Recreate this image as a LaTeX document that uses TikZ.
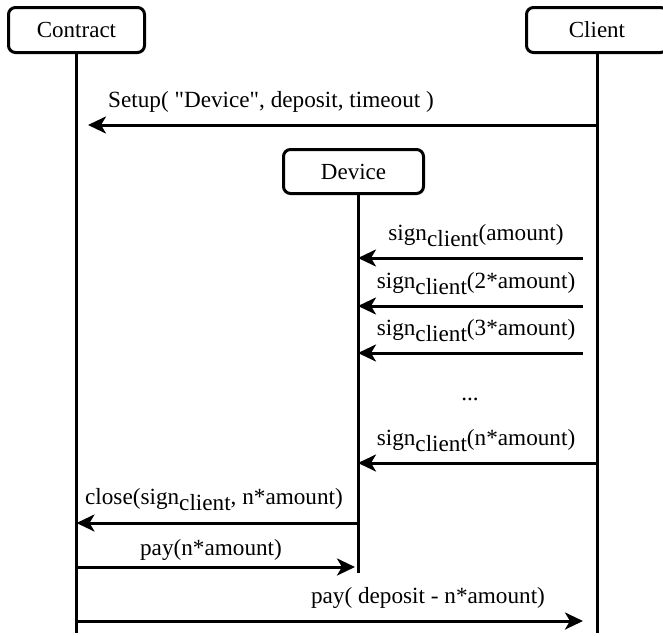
\documentclass[tikz,border=0pt]{standalone}
\usepackage{fontspec}
\setmainfont{Liberation Serif}
\newfontfamily\diagfont{Liberation Serif}
\usetikzlibrary{arrows.meta}
\newcommand\clsub{\raisebox{-0.3em}{client}}
\begin{document}
\begin{tikzpicture}[x=1pt,y=-1pt,
  actor/.style={draw,line width=3pt,rounded corners=7pt,inner sep=0pt,
    font=\diagfont\fontsize{23}{27}\selectfont},
  life/.style={line width=3pt},
  msg/.style={line width=3pt,-{Stealth[length=18pt,width=17pt,inset=5pt]}},
  lbl/.style={font=\diagfont\fontsize{23.2}{27}\selectfont,inner sep=0pt,anchor=base}
]
\useasboundingbox (0,0) rectangle (663,635);
% actors
\node[actor,minimum width=136pt,minimum height=45pt] (contract) at (76.5,30) {Contract};
\node[actor,minimum width=140pt,minimum height=44pt] (device) at (353.5,171.5) {Device};
\node[actor,minimum width=141pt,minimum height=45pt] (client) at (597,30) {Client};
% lifelines
\coordinate (cbot) at (contract.south |- {(0,633)});
\coordinate (dtop) at ([xshift=4.5pt]device.south);
\coordinate (dbot) at (dtop |- {(0,573)});
\coordinate (kbot) at (client.south |- {(0,633)});
\draw[life] (contract.south) -- (cbot);
\draw[life] (dtop) -- (dbot);
\draw[life] (client.south) -- (kbot);
% message end points
\coordinate (m1a) at (client.south |- {(0,125)});
\coordinate (m1b) at (88,125);
\coordinate (m2a) at (583,258);
\coordinate (m2b) at (dtop |- {(0,258)});
\coordinate (m3a) at (583,306);
\coordinate (m3b) at (dtop |- {(0,306)});
\coordinate (m4a) at (583,353);
\coordinate (m4b) at (dtop |- {(0,353)});
\coordinate (m5a) at (client.south |- {(0,463)});
\coordinate (m5b) at (dtop |- {(0,463)});
\coordinate (m6a) at (dtop |- {(0,523)});
\coordinate (m6b) at (contract.south |- {(0,523)});
\coordinate (m7a) at (contract.south |- {(0,567)});
\coordinate (m7b) at ([xshift=-3pt]dtop |- {(0,567)});
\coordinate (m8a) at (contract.south |- {(0,621)});
\coordinate (m8b) at (583,621);
% messages
\draw[msg] (m1a) -- (m1b);
\draw[msg] (m2a) -- (m2b);
\draw[msg] (m3a) -- (m3b);
\draw[msg] (m4a) -- (m4b);
\draw[msg] (m5a) -- (m5b);
\draw[msg] (m6a) -- (m6b);
\draw[msg] (m7a) -- (m7b);
\draw[msg] (m8a) -- (m8b);
% labels
\node[lbl] (l1) at (271,107) {Setup( \textquotedbl Device\textquotedbl, deposit, timeout )};
\node[lbl] (l2) at (476,240) {sign\clsub(amount)};
\node[lbl] (l3) at (476,288) {sign\clsub(2*amount)};
\node[lbl] (l4) at (476,335) {sign\clsub(3*amount)};
\node[lbl] (dots) at (470,400) {...};
\node[lbl] (l5) at (476,445) {sign\clsub(n*amount)};
\node[lbl] (l6) at (214,504) {close(sign\clsub, n*amount)};
\node[lbl] (l7) at (211,555) {pay(n*amount)};
\node[lbl] (l8) at (428,603) {pay( deposit - n*amount)};
\end{tikzpicture}
\end{document}
